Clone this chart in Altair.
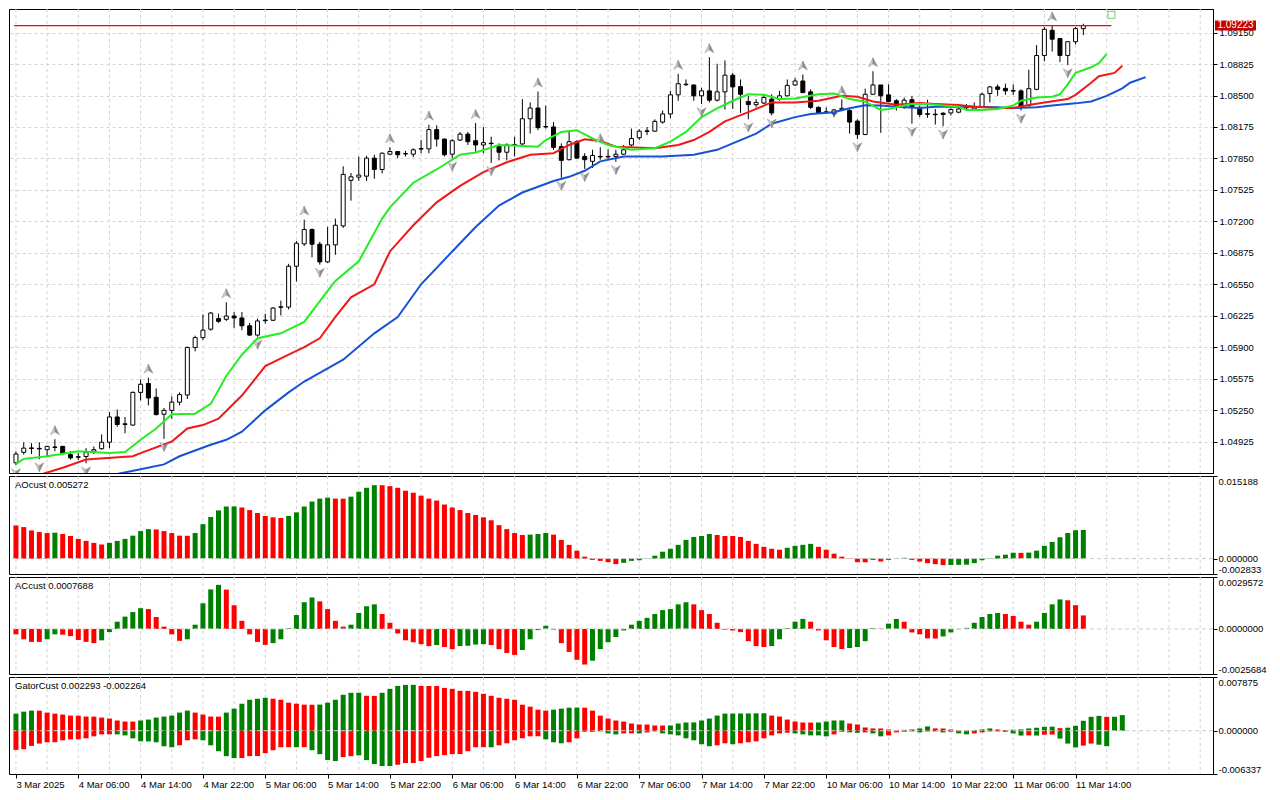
import json
import altair as alt
import pandas as pd

# ---------------- data (EURUSD H1, 3 Mar 22:00 .. 11 Mar 15:00) ----------------
OPEN = [1.04705,1.04814,1.04859,1.04854,1.04841,1.04869,1.04875,1.04790,1.04768,1.04770,
1.04824,1.04851,1.04918,1.05179,1.05108,1.05095,1.05433,1.05525,1.05382,1.05207,
1.05247,1.05332,1.05406,1.05897,1.05999,1.06086,1.06195,1.06188,1.06222,1.06202,
1.06121,1.06025,1.06180,1.06178,1.06317,1.06314,1.06736,1.06967,1.07116,1.06964,
1.06781,1.06957,1.07153,1.07624,1.07657,1.07667,1.07853,1.07736,1.07894,1.07921,
1.07901,1.07894,1.07952,1.07949,1.08148,1.08050,1.07894,1.08040,1.08101,1.08033,
1.07989,1.08008,1.07979,1.07914,1.07992,1.08000,1.08260,1.08371,1.08180,1.08175,
1.07972,1.07837,1.08023,1.07871,1.07820,1.07871,1.07871,1.07871,1.07894,1.07989,
1.08064,1.08135,1.08132,1.08226,1.08310,1.08507,1.08617,1.08609,1.08497,1.08548,
1.08452,1.08538,1.08710,1.08592,1.08439,1.08406,1.08422,1.08463,1.08463,1.08497,
1.08609,1.08650,1.08538,1.08378,1.08331,1.08310,1.08355,1.08345,1.08236,1.08097,
1.08513,1.08609,1.08507,1.08446,1.08378,1.08457,1.08378,1.08312,1.08307,1.08317,
1.08320,1.08328,1.08378,1.08361,1.08385,1.08521,1.08589,1.08574,1.08551,1.08548,
1.08396,1.08564,1.08914,1.09174,1.09089,1.08914,1.09056,1.09191]
HIGH = [1.04824,1.04918,1.04908,1.04918,1.04880,1.04949,1.04880,1.04824,1.04806,1.04857,
1.04875,1.04999,1.05230,1.05257,1.05179,1.05443,1.05568,1.05585,1.05474,1.05271,
1.05392,1.05433,1.05907,1.06019,1.06238,1.06263,1.06246,1.06364,1.06263,1.06263,
1.06151,1.06195,1.06246,1.06314,1.06381,1.06761,1.06997,1.07218,1.07126,1.06990,
1.07142,1.07228,1.07769,1.07701,1.07871,1.07878,1.07888,1.07911,1.07965,1.07921,
1.07928,1.07955,1.08040,1.08199,1.08193,1.08056,1.08050,1.08124,1.08124,1.08216,
1.08175,1.08074,1.08006,1.08006,1.08074,1.08463,1.08429,1.08541,1.08396,1.08226,
1.08006,1.08142,1.08040,1.07904,1.07939,1.07965,1.07945,1.07939,1.07989,1.08158,
1.08152,1.08175,1.08254,1.08345,1.08548,1.08724,1.08666,1.08615,1.08581,1.08896,
1.08828,1.08863,1.08734,1.08666,1.08497,1.08463,1.08513,1.08513,1.08548,1.08666,
1.08683,1.08717,1.08564,1.08389,1.08378,1.08361,1.08460,1.08361,1.08254,1.08571,
1.08751,1.08609,1.08615,1.08463,1.08480,1.08497,1.08396,1.08457,1.08361,1.08328,
1.08368,1.08385,1.08412,1.08429,1.08531,1.08599,1.08615,1.08622,1.08615,1.08564,
1.08767,1.09021,1.09208,1.09224,1.09096,1.09062,1.09208,1.09242]
LOW = [1.04682,1.04790,1.04796,1.04743,1.04773,1.04824,1.04796,1.04739,1.04735,1.04700,
1.04796,1.04841,1.04857,1.05078,1.05010,1.05088,1.05349,1.05298,1.05196,1.04953,
1.05162,1.05298,1.05365,1.05857,1.05974,1.06070,1.06151,1.06171,1.06100,1.06076,
1.06015,1.06009,1.06144,1.06171,1.06228,1.06289,1.06578,1.06946,1.06828,1.06753,
1.06771,1.06855,1.07132,1.07414,1.07617,1.07617,1.07640,1.07695,1.07888,1.07853,
1.07871,1.07863,1.07904,1.07904,1.07972,1.07871,1.07850,1.08030,1.07989,1.07921,
1.07904,1.07803,1.07830,1.07830,1.07871,1.07989,1.08107,1.08142,1.08158,1.07939,
1.07650,1.07830,1.07853,1.07742,1.07752,1.07837,1.07837,1.07815,1.07888,1.07972,
1.08040,1.08091,1.08124,1.08209,1.08267,1.08446,1.08599,1.08446,1.08412,1.08429,
1.08439,1.08355,1.08361,1.08320,1.08254,1.08378,1.08412,1.08294,1.08446,1.08490,
1.08599,1.08524,1.08361,1.08310,1.08310,1.08277,1.08345,1.08107,1.08050,1.08091,
1.08507,1.08114,1.08429,1.08345,1.08361,1.08209,1.08277,1.08270,1.08200,1.08182,
1.08294,1.08317,1.08351,1.08351,1.08378,1.08429,1.08497,1.08507,1.08507,1.08345,
1.08385,1.08554,1.08853,1.08954,1.08845,1.08815,1.09028,1.09123]
CLOSE = [1.04796,1.04857,1.04854,1.04849,1.04875,1.04864,1.04800,1.04756,1.04763,1.04814,
1.04841,1.04918,1.05179,1.05101,1.05101,1.05433,1.05517,1.05375,1.05203,1.05247,
1.05332,1.05410,1.05897,1.05999,1.06076,1.06253,1.06167,1.06222,1.06202,1.06121,
1.06025,1.06171,1.06174,1.06304,1.06312,1.06736,1.06974,1.07116,1.06964,1.06781,
1.06957,1.07160,1.07685,1.07660,1.07678,1.07853,1.07736,1.07904,1.07921,1.07888,
1.07896,1.07939,1.07947,1.08148,1.08050,1.07888,1.08033,1.08101,1.08023,1.07989,
1.08013,1.08003,1.07914,1.07989,1.07987,1.08260,1.08371,1.08168,1.08175,1.07965,
1.07830,1.08023,1.07853,1.07837,1.07881,1.07866,1.07866,1.07894,1.07939,1.08056,
1.08132,1.08130,1.08233,1.08310,1.08507,1.08622,1.08612,1.08497,1.08548,1.08452,
1.08538,1.08710,1.08589,1.08513,1.08406,1.08429,1.08480,1.08320,1.08497,1.08605,
1.08650,1.08531,1.08378,1.08320,1.08328,1.08351,1.08368,1.08226,1.08097,1.08513,
1.08609,1.08497,1.08439,1.08378,1.08452,1.08378,1.08304,1.08307,1.08302,1.08304,
1.08355,1.08361,1.08373,1.08385,1.08513,1.08589,1.08564,1.08548,1.08546,1.08378,
1.08571,1.08914,1.09184,1.09082,1.08914,1.09056,1.09191,1.09223]

# Alligator lines, read at sampled bars (bar index, price)
JAW_BAR = [13,16,19,21,25,27,29,32,35,37,42,46,49,52,56,59,62,65,69,71,73,75,78,83,87,90,92,95,97,100,
           102,105,107,109,111,113,116,118,121,123,126,128,131,133,136,138,140,142,143,145]
JAW_VAL = [1.04590,1.04638,1.04689,1.04773,1.04892,1.04943,1.05027,1.05247,1.05433,1.05545,1.05771,1.06043,
           1.06212,1.06550,1.06889,1.07142,1.07363,1.07498,1.07617,1.07660,1.07723,1.07820,1.07871,1.07871,
           1.07888,1.07939,1.08006,1.08107,1.08209,1.08277,1.08310,1.08328,1.08368,1.08399,1.08396,1.08385,
           1.08371,1.08385,1.08385,1.08385,1.08378,1.08371,1.08378,1.08396,1.08419,1.08439,1.08497,1.08574,
           1.08632,1.08690]
TEETH_BAR = [3,6,9,15,16,20,22,24,26,29,32,35,37,39,41,43,46,48,51,54,57,60,63,66,69,71,73,75,77,82,
             85,87,89,91,94,96,97,100,103,106,108,110,113,116,118,121,123,126,128,130,132,135,136,138,139,141,142]
TEETH_VAL = [1.04580,1.04654,1.04739,1.04773,1.04806,1.04925,1.05060,1.05095,1.05162,1.05400,1.05704,1.05822,
             1.05900,1.05992,1.06212,1.06415,1.06550,1.06889,1.07160,1.07396,1.07566,1.07708,1.07810,1.07888,
             1.07904,1.07989,1.08048,1.08030,1.07972,1.07955,1.07989,1.08040,1.08124,1.08233,1.08328,1.08396,
             1.08429,1.08429,1.08446,1.08497,1.08487,1.08439,1.08406,1.08422,1.08412,1.08402,1.08385,1.08371,
             1.08371,1.08402,1.08429,1.08463,1.08507,1.08632,1.08700,1.08734,1.08808]
LIPS_BAR = [0,1,4,8,12,14,16,18,20,23,25,27,29,31,34,37,40,41,44,47,48,51,54,57,59,62,65,67,68,70,
            72,74,76,79,82,84,86,88,90,92,94,96,98,100,103,105,107,109,111,112,114,115,117,119,121,122,
            124,126,128,129,131,133,134,135,136,138,139,140]
LIPS_VAL = [1.04692,1.04746,1.04773,1.04824,1.04806,1.04817,1.04943,1.05060,1.05207,1.05213,1.05314,1.05603,
            1.05822,1.05992,1.06043,1.06161,1.06482,1.06584,1.06787,1.07228,1.07345,1.07599,1.07736,1.07888,
            1.07911,1.07989,1.07979,1.07972,1.08040,1.08124,1.08142,1.08056,1.07989,1.07939,1.07955,1.08023,
            1.08124,1.08277,1.08368,1.08446,1.08513,1.08507,1.08463,1.08470,1.08513,1.08521,1.08463,1.08436,
            1.08351,1.08361,1.08396,1.08412,1.08412,1.08396,1.08385,1.08351,1.08351,1.08361,1.08396,1.08446,
            1.08480,1.08487,1.08513,1.08615,1.08734,1.08792,1.08835,1.08930]

FRACTAL_UP = [5,17,27,37,48,53,59,67,75,85,89,101,106,110,133]
FRACTAL_DOWN = [0,3,9,19,31,39,56,61,70,73,77,88,94,97,108,115,119,129,135]

BID = 1.09223
BID_LINE_BARS = [-0.25, 140.6]
MARK_BAR = 140.6
MARK_PRICE = 1.09333

AO = [0.00609,0.00579,0.00518,0.00488,0.00470,0.00476,0.00452,0.00416,0.00362,0.00325,
0.00289,0.00259,0.00289,0.00325,0.00362,0.00422,0.00506,0.00542,0.00536,0.00506,
0.00470,0.00422,0.00420,0.00470,0.00633,0.00765,0.00886,0.00958,0.00960,0.00940,
0.00892,0.00838,0.00784,0.00759,0.00747,0.00784,0.00850,0.00958,0.01049,0.01103,
0.01121,0.01103,0.01102,0.01139,0.01230,0.01302,0.01350,0.01349,0.01332,0.01302,
0.01248,0.01211,0.01157,0.01103,0.01067,0.00994,0.00940,0.00892,0.00838,0.00802,
0.00759,0.00705,0.00615,0.00542,0.00470,0.00434,0.00440,0.00452,0.00470,0.00440,
0.00344,0.00253,0.00145,0.00036,-0.00024,-0.00042,-0.00066,-0.00102,-0.00078,-0.00042,
-0.00030,-0.00006,0.00054,0.00127,0.00181,0.00253,0.00344,0.00398,0.00416,0.00452,
0.00434,0.00416,0.00415,0.00398,0.00325,0.00271,0.00217,0.00181,0.00163,0.00199,
0.00235,0.00253,0.00271,0.00217,0.00163,0.00090,0.00036,-0.00006,-0.00066,-0.00068,
-0.00024,-0.00054,-0.00024,0.00010,0.00014,-0.00024,-0.00054,-0.00084,-0.00102,-0.00120,
-0.00118,-0.00115,-0.00112,-0.00084,-0.00030,0.00006,0.00054,0.00072,0.00108,0.00106,
0.00110,0.00145,0.00235,0.00307,0.00392,0.00470,0.00522,0.005272]
AO_COL = ("rrrrrgrrrr" "rrggggggrr" "rrrggggggr" "rrrrrggggg" "grrggggrrr" "rrrrrrrrrr"
          "rrrrrrgggr" "rrrrrrrrgg" "gggggggggg" "rrrrrrrrrg" "gggrrrrrrr" "grgggrrrrr"
          "gggggggggr" "gggggggg")

AC = [-0.00031,-0.00059,-0.00074,-0.00074,-0.00059,-0.00031,-0.00033,-0.00041,-0.00063,-0.00074,
-0.00081,-0.00065,-0.00018,0.00041,0.00070,0.00096,0.00118,0.00113,0.00068,0.00013,
-0.00031,-0.00068,-0.00059,0.00024,0.00146,0.00225,0.00251,0.00224,0.00135,0.00046,
-0.00031,-0.00074,-0.00091,-0.00081,-0.00059,0.00004,0.00079,0.00152,0.00179,0.00157,
0.00113,0.00046,0.00013,0.00024,0.00091,0.00129,0.00140,0.00085,0.00035,-0.00026,
-0.00065,-0.00076,-0.00087,-0.00098,-0.00092,-0.00103,-0.00115,-0.00098,-0.00096,-0.00089,
-0.00087,-0.00092,-0.00115,-0.00137,-0.00148,-0.00120,-0.00059,-0.00007,0.00018,-0.00004,
-0.00081,-0.00131,-0.00176,-0.00203,-0.00181,-0.00115,-0.00076,-0.00046,-0.00009,0.00024,
0.00046,0.00063,0.00085,0.00107,0.00113,0.00140,0.00152,0.00140,0.00107,0.00085,
0.00035,-0.00004,-0.00009,-0.00018,-0.00070,-0.00098,-0.00103,-0.00098,-0.00059,0.00004,
0.00041,0.00057,0.00041,-0.00009,-0.00065,-0.00103,-0.00115,-0.00109,-0.00103,-0.00070,
0.00004,0.00002,0.00030,0.00057,0.00041,-0.00020,-0.00031,-0.00054,-0.00055,-0.00043,
-0.00020,-0.00002,0.00006,0.00035,0.00068,0.00085,0.00091,0.00085,0.00074,0.00041,
0.00024,0.00041,0.00091,0.00140,0.00168,0.00163,0.00135,0.0007688]
AC_COL = ("rrrrggrrrr" "rggggggrrr" "rrgggggrrr" "rrrggggggr" "rrrggggrrr" "rrrrgrrggg"
          "grrrrggggr" "rrrrgggggg" "gggggggrrr" "rrrrrrrggg" "ggrrrrrggg" "grggrrrrrg"
          "gggggggrrr" "rggggrrr")

GATOR_UP = [0.00251,0.00280,0.00295,0.00294,0.00266,0.00251,0.00237,0.00222,0.00221,0.00208,
0.00207,0.00193,0.00179,0.00150,0.00135,0.00134,0.00150,0.00164,0.00193,0.00208,
0.00222,0.00266,0.00295,0.00266,0.00237,0.00208,0.00207,0.00266,0.00324,0.00396,
0.00454,0.00469,0.00483,0.00469,0.00454,0.00411,0.00396,0.00382,0.00381,0.00383,
0.00411,0.00454,0.00527,0.00556,0.00557,0.00512,0.00511,0.00556,0.00614,0.00657,
0.00672,0.00673,0.00657,0.00656,0.00655,0.00628,0.00614,0.00585,0.00584,0.00570,
0.00541,0.00512,0.00483,0.00469,0.00454,0.00382,0.00353,0.00309,0.00295,0.00309,
0.00324,0.00338,0.00339,0.00338,0.00295,0.00222,0.00179,0.00150,0.00135,0.00106,
0.00092,0.00091,0.00077,0.00076,0.00077,0.00106,0.00121,0.00122,0.00150,0.00179,
0.00222,0.00251,0.00252,0.00253,0.00254,0.00255,0.00256,0.00222,0.00208,0.00164,
0.00135,0.00121,0.00120,0.00121,0.00135,0.00150,0.00151,0.00106,0.00092,0.00048,
0.00034,0.00033,0.00019,0.00010,0.00014,0.00019,0.00034,0.00063,0.00034,0.00033,
0.00019,0.00010,0.00005,0.00010,0.00019,0.00034,0.00019,0.00010,0.00015,0.00020,
0.00034,0.00044,0.00058,0.00060,0.00038,0.00045,0.00072,0.00146,0.00204,0.00218,
0.00204,0.00205,0.002293]
GATOR_UP_COL = ("gggrrrrrrr" "rrrrrrgggg" "gggrrrrggg" "gggrrrrrrg" "gggggrrggg" "ggrrrrrrrr"
                "rrrrrrrrrg" "gggrrrrrrr" "rrrrgggggg" "gggggggrrr" "rrrggggrrr" "rrrrggggrr"
                "rrrgggrrgg" "ggggrggggg" "rgg")
GATOR_DOWN = [-0.00280,-0.00271,-0.00222,-0.00188,-0.00169,-0.00168,-0.00140,-0.00126,-0.00125,-0.00111,
-0.00082,-0.00053,-0.00052,-0.00053,-0.00068,-0.00111,-0.00155,-0.00156,-0.00169,-0.00227,
-0.00242,-0.00213,-0.00140,-0.00126,-0.00140,-0.00213,-0.00300,-0.00372,-0.00401,-0.00400,
-0.00372,-0.00371,-0.00329,-0.00285,-0.00242,-0.00241,-0.00242,-0.00241,-0.00285,-0.00343,
-0.00430,-0.00444,-0.00386,-0.00372,-0.00360,-0.00430,-0.00488,-0.00517,-0.00518,-0.00498,
-0.00473,-0.00472,-0.00444,-0.00396,-0.00372,-0.00357,-0.00343,-0.00342,-0.00300,-0.00242,
-0.00241,-0.00242,-0.00213,-0.00184,-0.00140,-0.00111,-0.00082,-0.00081,-0.00126,-0.00169,
-0.00184,-0.00169,-0.00111,-0.00015,-0.00015,-0.00010,-0.00039,-0.00053,-0.00039,-0.00038,
-0.00039,-0.00024,-0.00010,-0.00039,-0.00053,-0.00068,-0.00111,-0.00140,-0.00198,-0.00227,
-0.00213,-0.00184,-0.00198,-0.00184,-0.00169,-0.00155,-0.00111,-0.00068,-0.00039,-0.00029,
-0.00039,-0.00053,-0.00068,-0.00068,-0.00082,-0.00053,-0.00015,-0.00024,-0.00030,-0.00024,
-0.00039,-0.00082,-0.00068,-0.00024,-0.00015,-0.00010,-0.00024,-0.00010,-0.00010,-0.00024,
-0.00015,-0.00039,-0.00053,-0.00039,-0.00024,-0.00010,-0.00010,-0.00015,-0.00040,-0.00070,
-0.00068,-0.00070,-0.00058,-0.00056,-0.00115,-0.00188,-0.00245,-0.00218,-0.00188,-0.00205,
-0.002264]
GATOR_DOWN_COL = ("rrrrrrrrrr" "rrrggggggg" "grrrgggggr" "rrrrrrgrgg" "ggrrgggggr" "rrrrrrrrrr"
                  "rgrrrrrrgg" "grrrrgggrr" "grrggggggg" "rrgrrrrrrr" "gggggrrggr" "ggrrrrgrrg"
                  "rggrrrrggg" "rgrrgggrrg" "g")

PRICE_TICKS = [1.04925,1.05250,1.05575,1.05900,1.06225,1.06550,1.06875,1.07200,1.07525,
               1.07850,1.08175,1.08500,1.08825,1.09150]
PRICE_DOMAIN = [1.04600, 1.09394]
AO_DOMAIN = [-0.002833, 0.015188]
AC_DOMAIN = [-0.0025684, 0.0029572]
GATOR_DOMAIN = [-0.006337, 0.007875]

XLABEL_BARS = [0,8,16,24,32,40,48,56,64,72,80,88,96,104,112,120,128,136]
XLABELS = ["3 Mar 2025","4 Mar 06:00","4 Mar 14:00","4 Mar 22:00","5 Mar 06:00","5 Mar 14:00",
           "5 Mar 22:00","6 Mar 06:00","6 Mar 14:00","6 Mar 22:00","7 Mar 06:00","7 Mar 14:00",
           "7 Mar 22:00","10 Mar 06:00","10 Mar 14:00","10 Mar 22:00","11 Mar 06:00","11 Mar 14:00"]
GRID_BARS = list(range(0, 153, 4))

# ---------------- layout / style ----------------
W = 1204
H_MAIN, H_AO, H_AC, H_G = 464, 98, 97, 97
XDOM = [-0.25, 153.0]
FONT = "Liberation Sans"
FS = 9.5
GRID_C = "#d4d4d4"
LINE_COLORS = {"jaw": "#1652d6", "teeth": "#f01818", "lips": "#22ee22"}
HIST_COLORS = {"g": "#008000", "r": "#ff0000"}

n = len(OPEN)
candles = pd.DataFrame({"bar": list(range(n)), "open": OPEN, "high": HIGH, "low": LOW, "close": CLOSE})
candles["fill"] = ["#ffffff" if c >= o else "#000000" for o, c in zip(OPEN, CLOSE)]

lines = pd.concat([
    pd.DataFrame({"bar": JAW_BAR, "val": JAW_VAL, "line": "jaw"}),
    pd.DataFrame({"bar": TEETH_BAR, "val": TEETH_VAL, "line": "teeth"}),
    pd.DataFrame({"bar": LIPS_BAR, "val": LIPS_VAL, "line": "lips"}),
])
lines["col"] = lines["line"].map(LINE_COLORS)

up_df = candles.loc[FRACTAL_UP, ["bar", "high"]]
dn_df = candles.loc[FRACTAL_DOWN, ["bar", "low"]]
grid_df = pd.DataFrame({"bar": GRID_BARS})
bid_line_df = pd.DataFrame({"bar": [BID_LINE_BARS[0]], "bar_end": [BID_LINE_BARS[1]], "price": [BID]})
bid_df = pd.DataFrame({"price": [BID], "label": [f"{BID:.5f}"]})
mark_df = pd.DataFrame({"bar": [MARK_BAR], "price": [MARK_PRICE]})

XSCALE = alt.Scale(domain=XDOM, nice=False, zero=False)


def xenc(axis=None):
    return alt.X("bar:Q", scale=XSCALE, axis=axis)


def vgrid(axis=None):
    return alt.Chart(grid_df).mark_rule(color=GRID_C, strokeDash=[3, 3], strokeWidth=1).encode(x=xenc(axis))


YS = alt.Scale(domain=PRICE_DOMAIN, nice=False, zero=False)
MAIN_AXIS = alt.Axis(orient="right", values=PRICE_TICKS, format=".5f", grid=True, gridDash=[3, 3],
                     gridColor=GRID_C, tickSize=4, labelPadding=2, title=None)


def ym(field):
    return alt.Y(f"{field}:Q", scale=YS, axis=MAIN_AXIS)


wicks = alt.Chart(candles).mark_rule(color="black", strokeWidth=1).encode(
    x=xenc(), y=ym("low"), y2="high:Q")
bodies = alt.Chart(candles).mark_bar(size=4, stroke="black", strokeWidth=1).encode(
    x=xenc(), y=ym("open"), y2="close:Q", fill=alt.Fill("fill:N", scale=None))
gator_lines = alt.Chart(lines).mark_line(strokeWidth=2, clip=True).encode(
    x=xenc(), y=ym("val"), color=alt.Color("col:N", scale=None), order=alt.Order("bar:Q"))

UP_L = "M0,-3L-1,-1L0,-1.6Z"
UP_R = "M0,-3L1,-1L0,-1.6Z"
DN_L = "M0,2.8L-1,0.8L0,1.4Z"
DN_R = "M0,2.8L1,0.8L0,1.4Z"


def arrow(df, field, shape, fill):
    return alt.Chart(df).mark_point(shape=shape, size=81, filled=True, fill=fill, stroke="#7d7d7d",
                                    strokeWidth=0.4, opacity=1, clip=True).encode(x=xenc(), y=ym(field))


bid_line = alt.Chart(bid_line_df).mark_rule(strokeWidth=1.3, opacity=1).encode(
    x=xenc(), x2="bar_end:Q", y=ym("price"), color=alt.value("#ff0000"))
TAG_W = 41
bid_tag = alt.Chart(bid_df).mark_point(shape="M-1,-0.245L1,-0.245L1,0.245L-1,0.245Z", size=TAG_W * TAG_W,
                                       filled=True, fill="#c80000", strokeWidth=0, opacity=1,
                                       clip=False).encode(
    x=alt.value(W + 2 + TAG_W / 2), y=ym("price"))
bid_text = alt.Chart(bid_df).mark_text(color="white", font=FONT, fontSize=10, dy=-0.5, clip=False).encode(
    x=alt.value(W + 2 + TAG_W / 2), y=ym("price"), text="label:N")
marker = alt.Chart(mark_df).mark_point(shape="square", size=49, filled=False, stroke="#8fd88f",
                                       strokeWidth=1.3, opacity=1).encode(x=xenc(), y=ym("price"))

main = alt.layer(
    vgrid(), wicks, bodies, gator_lines,
    arrow(up_df, "high", UP_L, "#cfcfcf"), arrow(up_df, "high", UP_R, "#8f8f8f"),
    arrow(dn_df, "low", DN_L, "#cfcfcf"), arrow(dn_df, "low", DN_R, "#8f8f8f"),
    bid_line, bid_tag, bid_text, marker,
).properties(width=W, height=H_MAIN)


def sub_axis(dom, fmt):
    expr = f"datum.value < 0 ? '-' + format(-datum.value, '{fmt}') : format(datum.value, '{fmt}')"
    return alt.Axis(orient="right", values=[dom[0], 0, dom[1]], labelExpr=expr, labelFlush=True,
                    grid=False, tickSize=4, labelPadding=1, title=None)


def hist(values, cols, dom, axis, xaxis=None):
    df = pd.DataFrame({"bar": list(range(len(values))), "v": values,
                       "c": [HIST_COLORS[k] for k in cols], "base": 0.0})
    return alt.Chart(df).mark_bar(size=5).encode(
        x=xenc(xaxis), y=alt.Y("v:Q", scale=alt.Scale(domain=dom, nice=False, zero=False), axis=axis),
        y2="base:Q", color=alt.Color("c:N", scale=None))


def zero_rule(dom, axis):
    return alt.Chart(pd.DataFrame({"z": [0.0]})).mark_rule(color="#cccccc", strokeDash=[4, 3]).encode(
        y=alt.Y("z:Q", scale=alt.Scale(domain=dom, nice=False, zero=False), axis=axis))


def title_text(text):
    return alt.Chart(pd.DataFrame({"t": [text]})).mark_text(
        align="left", baseline="middle", font=FONT, fontSize=FS, color="black").encode(
        x=alt.value(6), y=alt.value(9), text="t:N")


AO_AXIS = sub_axis(AO_DOMAIN, ".6f")
ao_panel = alt.layer(
    vgrid(), hist(AO, AO_COL, AO_DOMAIN, AO_AXIS), zero_rule(AO_DOMAIN, AO_AXIS),
    title_text(f"AOcust {AO[-1]:.6f}"),
).properties(width=W, height=H_AO)

AC_AXIS = sub_axis(AC_DOMAIN, ".7f")
ac_panel = alt.layer(
    vgrid(), hist(AC, AC_COL, AC_DOMAIN, AC_AXIS), zero_rule(AC_DOMAIN, AC_AXIS),
    title_text(f"ACcust {AC[-1]:.7f}"),
).properties(width=W, height=H_AC)

X_BOTTOM = alt.Axis(values=XLABEL_BARS, labelExpr=f"{json.dumps(XLABELS)}[round(datum.value / 8)]",
                    labelAlign="left", labelBaseline="top", tickSize=4, labelPadding=1, grid=False,
                    domain=False, labelOverlap=False, labelFlush=False, title=None)
G_AXIS = sub_axis(GATOR_DOMAIN, ".6f")

gator_panel = alt.layer(
    vgrid(X_BOTTOM),
    hist(GATOR_UP, GATOR_UP_COL, GATOR_DOMAIN, G_AXIS, X_BOTTOM),
    hist(GATOR_DOWN, GATOR_DOWN_COL, GATOR_DOMAIN, G_AXIS, X_BOTTOM),
    zero_rule(GATOR_DOMAIN, G_AXIS),
    title_text(f"GatorCust {GATOR_UP[-1]:.6f} {GATOR_DOWN[-1]:.6f}"),
).properties(width=W, height=H_G)

chart = alt.vconcat(main, ao_panel, ac_panel, gator_panel, spacing=3, bounds="flush").properties(
    padding={"left": 0, "top": 0, "right": 2, "bottom": 0}, background="white"
).configure_view(stroke="black", strokeWidth=1).configure_axis(
    labelFont=FONT, labelFontSize=FS, labelColor="black", tickColor="black", domainColor="black",
    tickWidth=1
)

chart.save("out.html", embed_options={"renderer": "svg", "actions": False})
